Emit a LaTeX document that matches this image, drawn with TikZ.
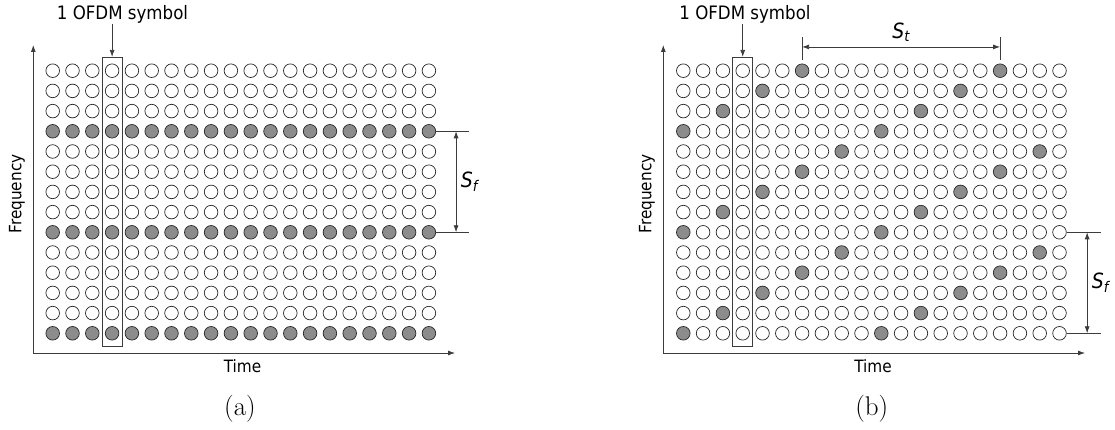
\documentclass[tikz,border=0pt]{standalone}
\usepackage{fontspec}
\setsansfont{DejaVu Sans}[FakeStretch=0.9]
\usepackage{tikz}
\usetikzlibrary{arrows.meta}
\definecolor{pilotgray}{RGB}{140,140,140}
\definecolor{linegray}{RGB}{60,60,60}

\begin{document}
\begin{tikzpicture}[x=1pt,y=-1pt,>={Latex[length=7pt,width=5pt]},
    every node/.style={font=\sffamily\fontsize{17}{20}\selectfont},
    re/.style={circle,draw=black!85,line width=0.7pt,minimum size=13.6pt,inner sep=0pt},
    symbox/.style={draw=linegray,line width=0.7pt,minimum width=20pt,minimum height=289.4pt,inner sep=0pt},
    axis/.style={draw=linegray,line width=0.8pt},
    symlabel/.style={inner sep=1pt,font=\sffamily\fontsize{18.5}{21}\selectfont},
    spacing/.style={font=\sffamily\itshape\fontsize{21}{24}\selectfont},
    capt/.style={font=\rmfamily\fontsize{27}{30}\selectfont}]
    \useasboundingbox (0,0) rectangle (1115,430);

    % resource grids: (a) block pilots, (b) scattered pilots
    \foreach \r in {0,...,13}
      \foreach \c in {0,...,19}{
        \pgfmathtruncatemacro\pa{mod(\r,5)==3}
        \pgfmathtruncatemacro\pb{mod(\c+2*\r,10)==6}
        \ifnum\pa=1 \def\fa{pilotgray}\else\def\fa{white}\fi
        \ifnum\pb=1 \def\fb{pilotgray}\else\def\fb{white}\fi
        \node[re,fill=\fa] (a-\r-\c) at ({52.7+19.8*\c},{70.7+20.2*\r}) {};
        \node[re,fill=\fb] (b-\r-\c) at ({683.3+19.8*\c},{70.7+20.2*\r}) {};
      }

    % (a)
    \coordinate (oA) at (33.3,353);
    \coordinate (fA) at (33.3,45);
    \coordinate (tA) at (455,353);
    \draw[axis,<->] (fA) -- (oA) -- (tA);
    \node[rotate=90] (freqA) at (17,194) {Frequency};
    \node (timeA) at (242.5,366.5) {Time};
    \node[symbox] (boxA) at (112.1,202) {};
    \node[symlabel] (ofdmA) at (122.5,14) {1 OFDM symbol};
    \draw[axis,->] (boxA.north |- ofdmA.south) -- (boxA.north);
    \draw[axis] (a-3-19.east) -- ++(33,0) coordinate (sfAt);
    \draw[axis] (a-8-19.east) -- ++(33,0) coordinate (sfAb);
    \draw[axis,<->] ([xshift=-13pt]sfAt) -- node[right=1pt,spacing] (sfA) {S\textsubscript{f}} ([xshift=-13pt]sfAb);
    \node[capt] (capA) at (240,409) {(a)};

    % (b)
    \coordinate (oB) at (663.3,353);
    \coordinate (fB) at (663.3,45);
    \coordinate (tB) at (1085,353);
    \draw[axis,<->] (fB) -- (oB) -- (tB);
    \node[rotate=90] (freqB) at (647,194) {Frequency};
    \node (timeB) at (873,366.5) {Time};
    \node[symbox] (boxB) at (742.7,202) {};
    \node[symlabel] (ofdmB) at (745,14) {1 OFDM symbol};
    \draw[axis,->] (boxB.north |- ofdmB.south) -- (boxB.north);
    \draw[axis] ([yshift=4pt]b-0-6.north) -- ++(0,-23) coordinate (stL);
    \draw[axis] ([yshift=4pt]b-0-16.north) -- ++(0,-23) coordinate (stR);
    \draw[axis,<->] ([yshift=-10.4pt]stL) -- node[above=2pt,spacing] (stB) {S\textsubscript{t}} ([yshift=-10.4pt]stR);
    \draw[axis] (b-8-19.east) -- ++(34,0) coordinate (sfBt);
    \draw[axis] (b-13-19.east) -- ++(34,0) coordinate (sfBb);
    \draw[axis,<->] ([xshift=-13.5pt]sfBt) -- node[right=1pt,spacing] (sfB) {S\textsubscript{f}} ([xshift=-13.5pt]sfBb);
    \node[capt] (capB) at (871.7,409) {(b)};
  \end{tikzpicture}
\end{document}
